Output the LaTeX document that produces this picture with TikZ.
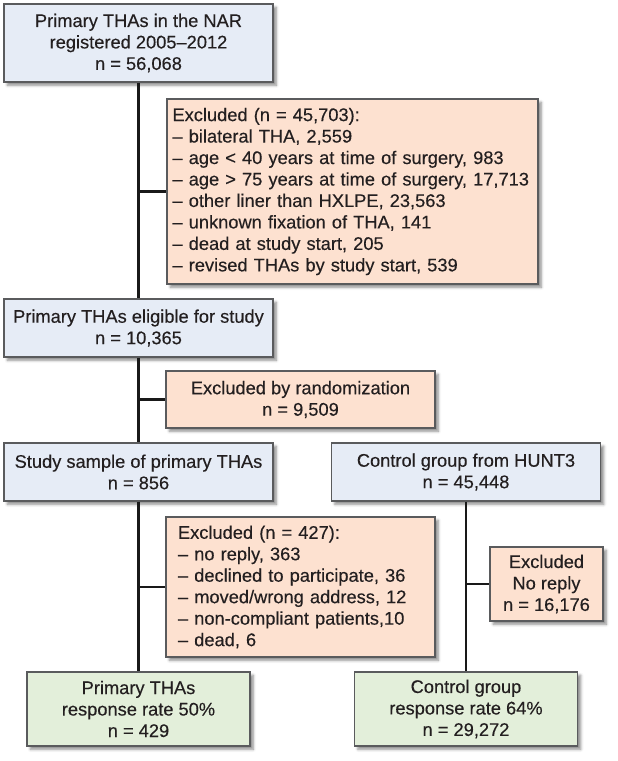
\documentclass[tikz,border=0pt]{standalone}
\usepackage{fontspec}
\setmainfont{Liberation Sans}[FakeBold=0.3]
\usetikzlibrary{shadows.blur}
\definecolor{boxblue}{HTML}{E6ECF6}
\definecolor{boxorange}{HTML}{FDE1D0}
\definecolor{boxgreen}{HTML}{E3EFDA}
\definecolor{boxedge}{HTML}{5A5B5D}
\definecolor{inkgray}{HTML}{231F20}

\begin{document}
\begin{tikzpicture}[x=0.75pt, y=-0.75pt,
  box/.style={draw=boxedge, line width=0.8pt, text=inkgray, inner sep=0pt,
    font=\fontsize{13.7}{16.1}\selectfont,
    blur shadow={shadow xshift=2.5pt, shadow yshift=-2.5pt,
      shadow blur radius=2pt, shadow opacity=45}},
  nar/.style={box, fill=boxblue, align=center},
  excl/.style={box, fill=boxorange},
  resp/.style={box, fill=boxgreen, align=center},
  link/.style={line width=2.2pt, black!90}]
\useasboundingbox (0,0) rectangle (618,761);

% left column
\node[nar, minimum width=201.75pt, minimum height=58.5pt] (top) at (138.5,43)
  {Primary THAs in the NAR\\registered 2005–2012\\n = 56,068};
\node[excl, minimum width=278.25pt, minimum height=138.75pt,
  text width=270pt, align=left] (exc1) at (352.5,191.5)
  {Excluded (n = 45,703):\\
   – bilateral THA, 2,559\\
   – age < 40 years at time of surgery, 983\\
   – age > 75 years at time of surgery, 17,713\\
   – other liner than HXLPE, 23,563\\
   – unknown fixation of THA, 141\\
   – dead at study start, 205\\
   – revised THAs by study start, 539};
\node[nar, minimum width=201.75pt, minimum height=43.5pt] (elig) at (138.5,328)
  {Primary THAs eligible for study\\n = 10,365};
\node[excl, align=center, minimum width=201.75pt, minimum height=42.75pt] (exc2) at (300.5,399.5)
  {Excluded by randomization\\n = 9,509};
\node[nar, minimum width=201.75pt, minimum height=43.5pt] (study) at (138.5,472)
  {Study sample of primary THAs\\n = 856};
\node[excl, minimum width=201.75pt, minimum height=105pt,
  text width=183.75pt, align=left] (exc3) at (300.5,587)
  {Excluded (n = 427):\\
   – no reply, 363\\
   – declined to participate, 36\\
   – moved/wrong address, 12\\
   – non-compliant patients,10\\
   – dead, 6};
\node[resp, minimum width=167.25pt, minimum height=55.5pt] (resp1) at (138.5,709)
  {Primary THAs\\response rate 50\%\\n = 429};

% right column
\node[nar, minimum width=201.75pt, minimum height=43.5pt] (hunt) at (466,472)
  {Control group from HUNT3\\n = 45,448};
\node[excl, align=center, minimum width=84.75pt, minimum height=55.5pt] (exc4) at (546.5,584)
  {Excluded\\No reply\\n = 16,176};
\node[resp, minimum width=167.25pt, minimum height=55.5pt] (resp2) at (466,709)
  {Control group\\response rate 64\%\\n = 29,272};

% connectors
\draw[link] (top.south) -- (elig.north);
\draw[link] (elig.south) -- (study.north);
\draw[link] (study.south) -- (resp1.north);
\draw[link] (hunt.south) -- (resp2.north);
\draw[link] (exc1.west -| top.south) -- (exc1.west);
\draw[link] (exc2.west -| elig.south) -- (exc2.west);
\draw[link] (exc3.west -| study.south) -- (exc3.west);
\draw[link] (exc4.west -| hunt.south) -- (exc4.west);
\end{tikzpicture}
\end{document}
